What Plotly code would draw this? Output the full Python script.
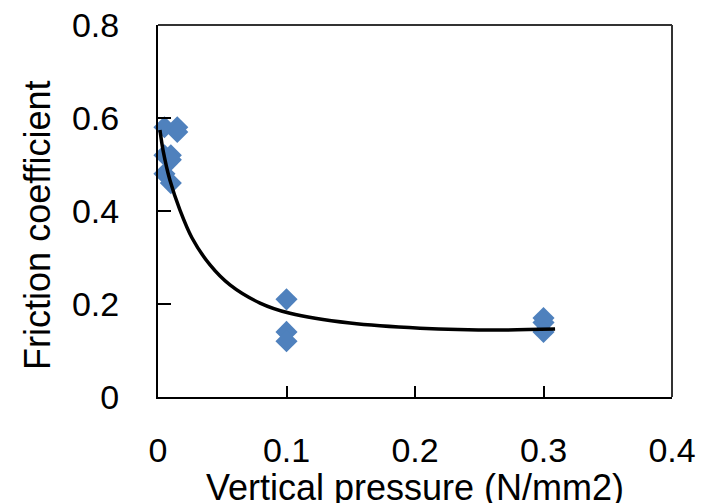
import plotly.graph_objects as go

# measured data points
pressure = [0.005, 0.005, 0.005, 0.01, 0.01, 0.01, 0.015, 0.015,
            0.1, 0.1, 0.1, 0.3, 0.3, 0.3]
friction = [0.58, 0.52, 0.48, 0.52, 0.51, 0.46, 0.58, 0.57,
            0.21, 0.14, 0.12, 0.17, 0.16, 0.14]

# trend curve
curve_x = [0.0015, 0.0039, 0.0093, 0.0171, 0.0265, 0.0405, 0.056, 0.0794,
           0.1027, 0.1494, 0.2039, 0.266, 0.309]
curve_y = [0.574, 0.531, 0.466, 0.402, 0.342, 0.284, 0.241, 0.202,
           0.180, 0.159, 0.148, 0.144, 0.146]

x_ticks = [0, 0.1, 0.2, 0.3, 0.4]
x_ticklabels = ["0", "0.1", "0.2", "0.3", "0.4"]
y_ticks = [0, 0.2, 0.4, 0.6, 0.8]
y_ticklabels = ["0", "0.2", "0.4", "0.6", "0.8"]
x_title = "Vertical pressure (N/mm2)"
y_title = "Friction coefficient"

FONT = "Liberation Sans, Arial, sans-serif"

fig = go.Figure()
fig.add_trace(go.Scatter(
    x=pressure, y=friction, mode="markers",
    marker=dict(symbol="diamond", size=17, color="#4F81BD", line=dict(width=0)),
    showlegend=False, cliponaxis=False,
))
fig.add_trace(go.Scatter(
    x=curve_x, y=curve_y, mode="lines",
    line=dict(color="black", width=3.5, shape="spline", smoothing=0.8),
    showlegend=False,
))

fig.update_layout(
    width=709, height=503,
    margin=dict(l=150, r=45, t=17, b=114, autoexpand=False),
    plot_bgcolor="white", paper_bgcolor="white",
    font=dict(family=FONT, color="black"),
    xaxis=dict(
        range=[0, 0.4], tickvals=x_ticks, ticktext=x_ticklabels,
        showgrid=False, zeroline=False, automargin=False,
        showline=True, linecolor="black", linewidth=2,
        ticks="inside", ticklen=11, tickwidth=1.5, tickcolor="black",
        tickfont=dict(size=34, family=FONT),
        ticklabelstandoff=22, ticklabeloverflow="allow",
    ),
    yaxis=dict(
        range=[0, 0.8], tickvals=y_ticks, ticktext=y_ticklabels,
        showgrid=False, zeroline=False, automargin=False,
        showline=True, linecolor="black", linewidth=2,
        ticks="inside", ticklen=13, tickwidth=1.5, tickcolor="black",
        tickfont=dict(size=34, family=FONT),
        ticklabelstandoff=30, ticklabeloverflow="allow",
    ),
    annotations=[
        dict(text=x_title, xref="paper", yref="paper", x=0.5, y=0,
             xanchor="center", yanchor="top", yshift=-68, showarrow=False,
             font=dict(size=36, family=FONT, color="black")),
        dict(text=y_title, xref="paper", yref="paper", x=0, y=0.46,
             xanchor="center", yanchor="middle", xshift=-120, textangle=-90,
             showarrow=False, font=dict(size=36, family=FONT, color="black")),
    ],
    shapes=[
        dict(type="line", xref="paper", yref="paper", x0=0, x1=1, y0=1, y1=1,
             line=dict(color="#333333", width=2)),
        dict(type="line", xref="paper", yref="paper", x0=1, x1=1, y0=0, y1=1,
             line=dict(color="#333333", width=2)),
    ],
)

fig.write_html("out.html")
